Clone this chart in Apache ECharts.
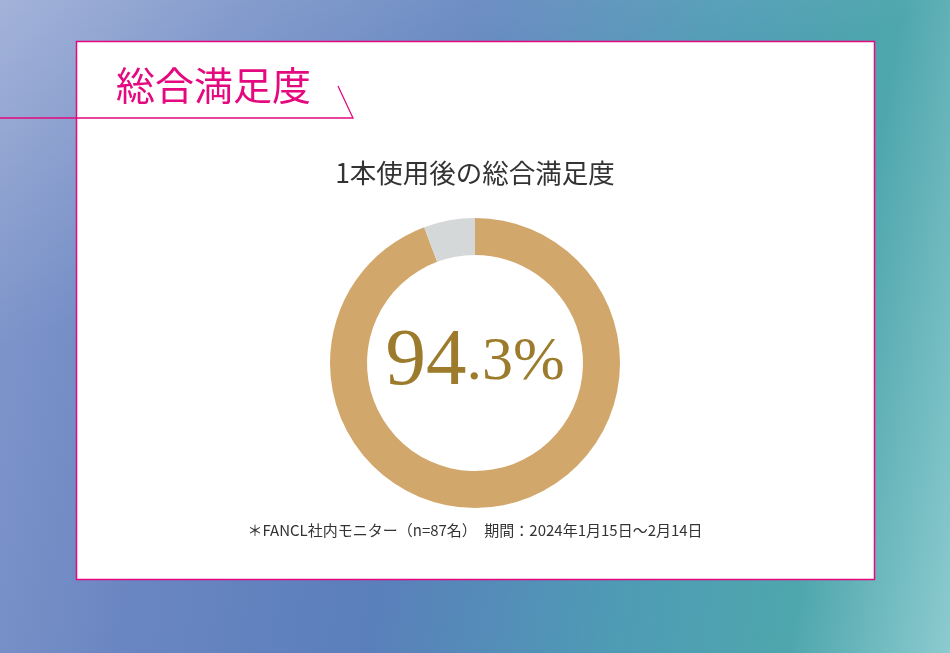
<!DOCTYPE html>
<html>
<head>
<meta charset="utf-8">
<script src="https://cdn.jsdelivr.net/npm/echarts@6/dist/echarts.min.js"></script>
<style>
  html, body { margin: 0; padding: 0; }
  #main {
    width: 950px; height: 653px;
    background:
      linear-gradient(160deg, rgba(255,255,255,0.25) 0%, rgba(255,255,255,0) 35%),
      linear-gradient(100deg, #8499cc 0%, #6a86c2 22%, #5a7fbb 45%, #4e9bb5 68%, #4fa7ad 85%, #8ccbcf 100%);
  }
</style>
</head>
<body>
<div id="main"></div>
<script>
// chart data
var categories = ['満足', 'その他'];
var values = [94.3, 5.7];
var pctMain = '94';
var pctRest = '.3%';
var pageTitle = '総合満足度';
var chartTitle = '1本使用後の総合満足度';
var note = '＊FANCL社内モニター（n=87名）　期間：2024年1月15日～2月14日';

var pink = '#e4097f';
var chart = echarts.init(document.getElementById('main'));

var option = {
  backgroundColor: 'transparent',
  animation: false,
  title: {
    text: chartTitle,
    left: 'center',
    top: 155,
    textStyle: {
      fontFamily: 'Noto Sans CJK JP',
      fontWeight: 'normal',
      fontSize: 26.5,
      color: '#333'
    }
  },
  graphic: [
    {
      type: 'rect', z: 0,
      shape: { x: 76.5, y: 41.5, width: 798, height: 538 },
      style: { fill: '#fff', stroke: pink, lineWidth: 1.5 }
    },
    {
      type: 'polyline', z: 1,
      shape: { points: [[0, 118], [353, 118], [338, 86]] },
      style: { fill: null, stroke: pink, lineWidth: 1.3 }
    },
    {
      type: 'text', z: 1,
      left: 116, top: 66,
      style: {
        text: pageTitle,
        fontFamily: 'Noto Sans CJK JP',
        fontSize: 39,
        fill: pink
      }
    },
    {
      type: 'text', z: 1,
      left: 'center', top: 523,
      style: {
        text: note,
        fontFamily: 'Noto Sans CJK JP',
        fontSize: 15,
        fill: '#333'
      }
    }
  ],
  series: [{
    type: 'pie',
    radius: [108, 145],
    center: [475, 363],
    startAngle: 90,
    clockwise: true,
    silent: true,
    label: {
      show: true,
      position: 'center',
      formatter: function (p) {
        return p.dataIndex === 0 ? '{a|' + pctMain + '}{b|' + pctRest + '}' : '';
      },
      rich: {
        a: { fontFamily: 'Liberation Serif', fontSize: 81, color: '#9c7b2c' },
        b: { fontFamily: 'Liberation Serif', fontSize: 62, color: '#9c7b2c' }
      }
    },
    labelLine: { show: false },
    emphasis: { disabled: true },
    data: categories.map(function (c, i) {
      return {
        name: c,
        value: values[i],
        itemStyle: { color: i === 0 ? '#d2a76b' : '#d5d8d9' }
      };
    })
  }]
};

chart.setOption(option);
</script>
</body>
</html>
